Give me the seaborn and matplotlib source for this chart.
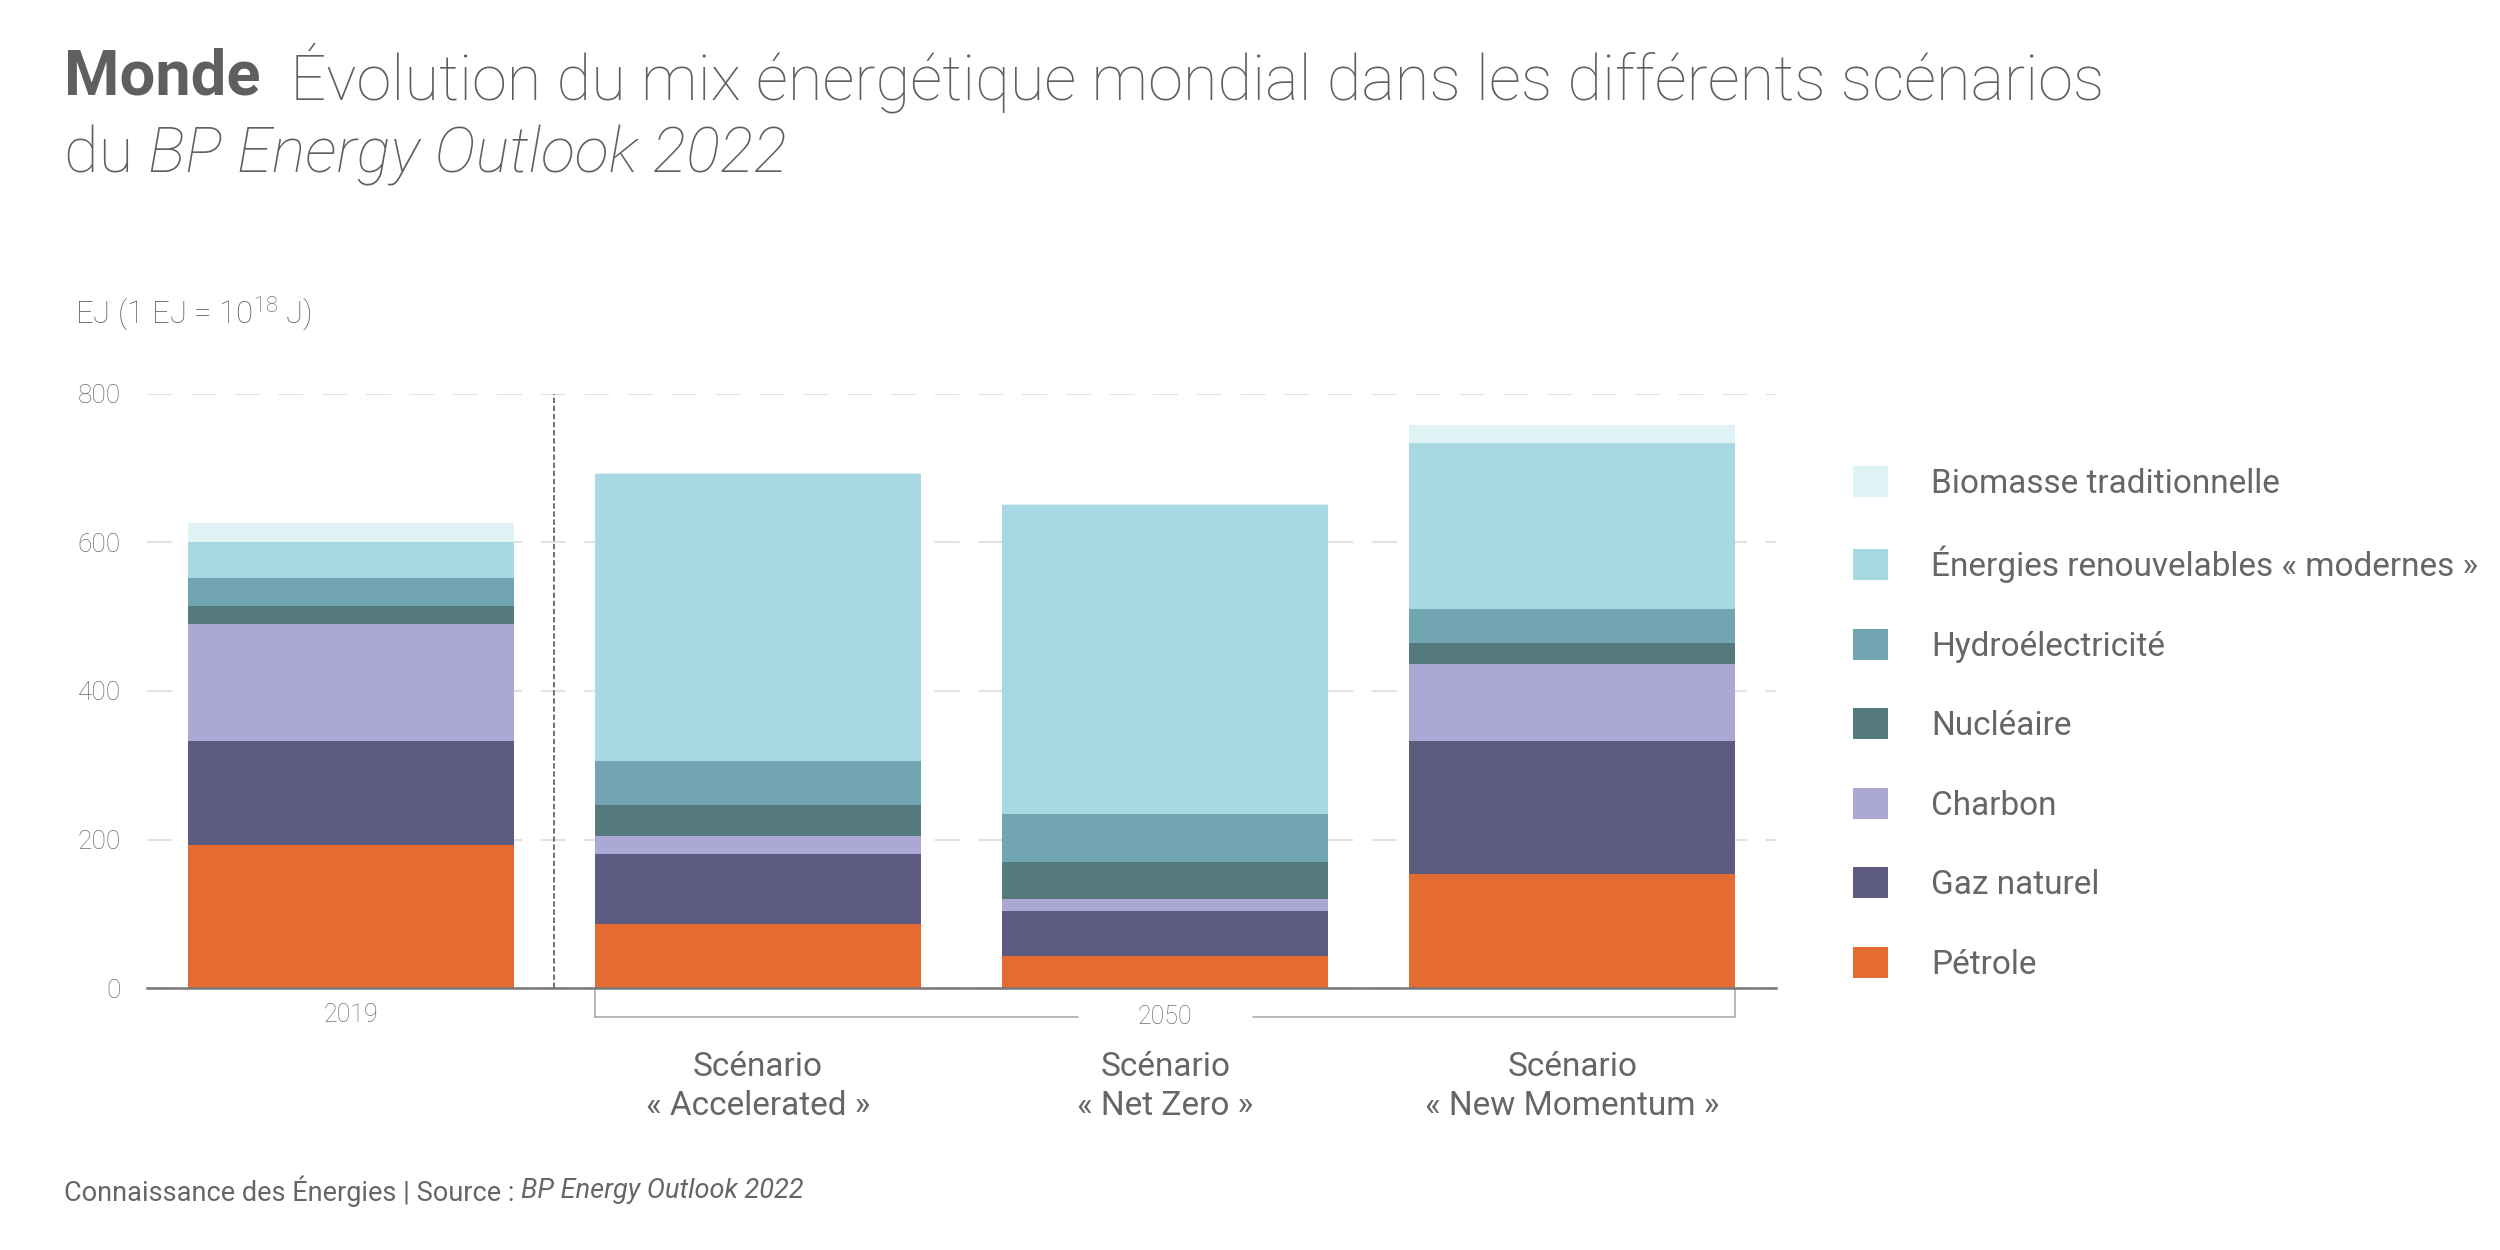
import matplotlib
matplotlib.use("Agg")
import matplotlib.pyplot as plt
import seaborn as sns
import pandas as pd
from matplotlib.patches import Patch

# Categories (one bar each)
columns = ["2019", "Accelerated", "Net Zero", "New Momentum"]
scenario_labels = ["Scénario\n« Accelerated »", "Scénario\n« Net Zero »", "Scénario\n« New Momentum »"]

# Energy sources, stacked from the bottom up (EJ)
sources = ["Pétrole", "Gaz naturel", "Charbon", "Nucléaire", "Hydroélectricité",
           "Énergies renouvelables « modernes »", "Biomasse traditionnelle"]
petrole = [192, 86, 43, 153]
gaz = [140, 95, 61, 180]
charbon = [158, 24, 16, 103]
nucleaire = [24, 41, 50, 28]
hydro = [38, 60, 65, 47]
renouvelables = [49, 386, 416, 223]
biomasse = [25, 1, 1, 24]
series = [petrole, gaz, charbon, nucleaire, hydro, renouvelables, biomasse]
colors = ["#e46c33", "#5c5a7f", "#aba8d6", "#557a7e", "#71a5b1", "#a8d8e2", "#dff3f5"]
yticks = [0, 200, 400, 600, 800]

TXT = "#666666"

sns.set_theme(style="white")
plt.rcParams["font.family"] = ["Roboto", "DejaVu Sans"]
plt.rcParams["mathtext.fontset"] = "custom"
plt.rcParams["mathtext.rm"] = "Roboto:light"
plt.rcParams["mathtext.default"] = "rm"

fig = plt.figure(figsize=(25, 12.5), dpi=100)
ax = fig.add_axes([0.0588, 0.2096, 0.6516, 0.4752])

# stacked bars
bottom = [0] * len(columns)
for name, vals, col in zip(sources, series, colors):
    df = pd.DataFrame({"scenario": columns, "ej": vals})
    sns.barplot(data=df, x="scenario", y="ej", order=columns, color=col,
                saturation=1, width=0.8, bottom=bottom, linewidth=0,
                ax=ax, zorder=2)
    bottom = [b + v for b, v in zip(bottom, vals)]

ax.set_xlim(-0.5, 3.5)
ax.set_ylim(0, 800)
ax.set_xlabel("")
ax.set_ylabel("")
for s in ["top", "left", "right"]:
    ax.spines[s].set_visible(False)
ax.spines["bottom"].set_color("#777777")
ax.spines["bottom"].set_linewidth(1.8)
ax.spines["bottom"].set_zorder(3)

ax.set_yticks(yticks)
ax.yaxis.grid(True, color="#e2e2e2", linewidth=1.5, linestyle=(0, (12, 9)))
ax.set_axisbelow(True)
ax.tick_params(axis="y", length=0, pad=19, labelsize=19, labelcolor="#6e6e6e")
for lab in ax.get_yticklabels():
    lab.set_fontweight("light")

ax.set_xticks([0])
ax.set_xticklabels(["2019"])
ax.tick_params(axis="x", length=0, pad=11, labelsize=18, labelcolor="#6e6e6e")
for lab in ax.get_xticklabels():
    lab.set_fontweight("light")

# separator between 2019 and 2050
ax.plot([0.5, 0.5], [0, 800], color="#666666", linewidth=1.3,
        linestyle=(0, (3, 1.5)), zorder=1)

# 2050 bracket
xt = ax.get_xaxis_transform()
br_y = -0.049
for seg in ([0.6, 1.785], [2.215, 3.4]):
    ax.plot(seg, [br_y, br_y], color="#aaaaaa", linewidth=1.2, transform=xt, clip_on=False)
for xv in (0.6, 3.4):
    ax.plot([xv, xv], [0, br_y], color="#aaaaaa", linewidth=1.2, transform=xt, clip_on=False)
ax.text(2, br_y, "2050", transform=xt, ha="center", va="center",
        fontsize=18, color="#6e6e6e", fontweight="light")

for i, lab in enumerate(scenario_labels, start=1):
    ax.text(i, -0.106, lab, transform=xt, ha="center", va="top",
            fontsize=24, color=TXT, linespacing=1.3)

# legend
handles = [Patch(facecolor=c, edgecolor="none", label=n) for n, c in zip(sources, colors)][::-1]
leg = fig.legend(handles=handles, loc="upper left", bbox_to_anchor=(0.741, 0.627),
                 frameon=False, fontsize=24, handlelength=1.05, handleheight=1.05,
                 handletextpad=1.3, labelspacing=1.37, borderpad=0, borderaxespad=0)
for t in leg.get_texts():
    t.set_color(TXT)

# unit label
fig.text(0.030, 0.749, r"EJ (1 EJ = 10$^{18}$ J)", fontsize=22.5, color="#606060",
         fontweight="light", va="center")


def write_runs(x, y, runs, **kw):
    renderer = fig.canvas.get_renderer()
    for s, style in runs:
        t = fig.text(x, y, s, **kw, **style)
        bb = t.get_window_extent(renderer)
        x = fig.transFigure.inverted().transform((bb.x1, bb.y0))[0]
    return x


write_runs(0.0256, 0.938, [
    ("Monde", {"fontweight": "bold"}),
    ("  Évolution du mix énergétique mondial dans les différents scénarios", {"fontweight": "light"}),
], fontsize=45.5, color="#5f5f5f", va="center")
write_runs(0.0256, 0.876, [
    ("du ", {"fontweight": "light"}),
    ("BP Energy Outlook 2022", {"fontweight": "light", "fontstyle": "italic"}),
], fontsize=45.5, color="#5f5f5f", va="center")

write_runs(0.0256, 0.047, [
    ("Connaissance des Énergies | Source : ", {}),
    ("BP Energy Outlook 2022", {"fontstyle": "italic"}),
], fontsize=19.5, color=TXT, va="center")

fig.savefig("out.png", dpi=100, facecolor="white")
